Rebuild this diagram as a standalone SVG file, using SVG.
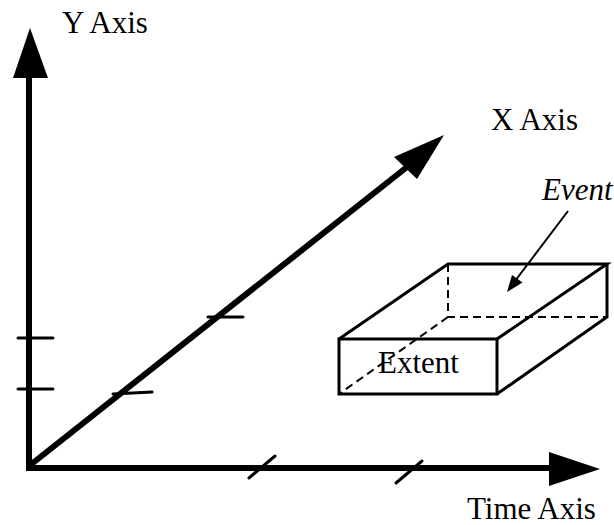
<svg xmlns="http://www.w3.org/2000/svg" width="614" height="525" viewBox="0 0 614 525">
<style>
  text { font-family: "Liberation Serif", "Times New Roman", serif; font-size: 31px; fill: #000; }
  .axis { stroke: #000; stroke-width: 6; fill: none; }
  .tick { stroke: #000; stroke-width: 3; fill: none; stroke-linecap: round; }
  .edge { stroke: #000; stroke-width: 3; fill: none; stroke-linejoin: miter; }
  .hidden { stroke: #000; stroke-width: 2; fill: none; stroke-dasharray: 8 5; }
  .head { fill: #000; stroke: none; }
</style>
<rect width="614" height="525" fill="#fff"/>
<g id="connectors">
  <line class="axis" x1="29" y1="470" x2="29" y2="76"/>
  <polygon class="head" points="30,28 13,78 48,78"/>
  <line class="axis" x1="26" y1="468" x2="552" y2="468"/>
  <polygon class="head" points="600,469 549,452 549,486"/>
  <line class="axis" stroke-width="7.5" x1="29" y1="466" x2="407" y2="167"/>
  <polygon class="head" points="444,135 394,157 417,179"/>
  <line stroke="#000" stroke-width="2" x1="568" y1="211" x2="515" y2="281"/>
  <polygon class="head" points="507,292 522.5,282.5 512,275"/>
</g>
<g id="ticks">
  <line class="tick" x1="18" y1="338" x2="53" y2="338" stroke-linecap="butt"/>
  <line class="tick" x1="18" y1="389" x2="53" y2="389" stroke-linecap="butt"/>
  <line class="tick" x1="208" y1="317" x2="243" y2="317" stroke-linecap="butt"/>
  <line class="tick" x1="113" y1="394" x2="152" y2="392" stroke-linecap="butt"/>
  <line class="tick" x1="249" y1="478" x2="275" y2="456"/>
  <line class="tick" x1="396" y1="483" x2="422" y2="461"/>
</g>
<g id="event">
  <polyline class="hidden" points="448,264 448,317 607,317"/>
  <line class="hidden" x1="448" y1="317" x2="339" y2="394"/>
  <rect class="edge" x="339" y="339" width="158" height="55"/>
  <polyline class="edge" points="339,339 448,264 607,264 497,339"/>
  <polyline class="edge" points="607,264 607,317 497,394"/>
  <text x="378" y="373">Extent</text>
</g>
<g id="labels">
  <text id="y-label" x="62" y="33">Y Axis</text>
  <text id="x-label" x="491" y="130">X Axis</text>
  <text id="time-label" x="467" y="519">Time Axis</text>
  <text id="event-label" x="542" y="200" font-style="italic">Event</text>
</g>
</svg>
